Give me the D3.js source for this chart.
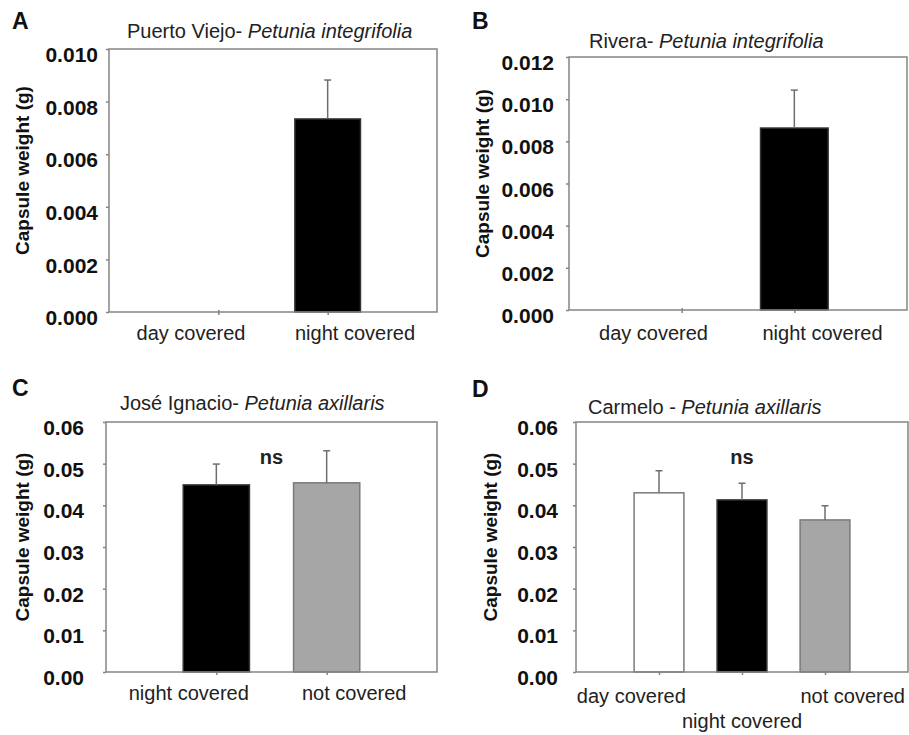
<!DOCTYPE html>
<html>
<head>
<meta charset="utf-8">
<script src="https://cdn.jsdelivr.net/npm/d3@7/dist/d3.min.js"></script>
<style>
  body { margin: 0; background: #fff; }
  svg { display: block; font-family: "Liberation Sans", Arial, sans-serif; }
</style>
</head>
<body>
<svg id="svg" width="909" height="735"></svg>
<script>
// panel data
const panelIds = ["A", "B", "C", "D"];
const sites = ["Puerto Viejo- ", "Rivera- ", "José Ignacio- ", "Carmelo - "];
const species = ["Petunia integrifolia", "Petunia integrifolia", "Petunia axillaris", "Petunia axillaris"];

const categoriesA = ["day covered", "night covered"];
const categoriesB = ["day covered", "night covered"];
const categoriesC = ["night covered", "not covered"];
const categoriesD = ["day covered", "night covered", "not covered"];

const meansA = [0, 0.00734];
const errorsA = [0, 0.00148];
const meansB = [0, 0.00863];
const errorsB = [0, 0.00180];
const meansC = [0.0449, 0.0454];
const errorsC = [0.0050, 0.0077];
const meansD = [0.0430, 0.0413, 0.0365];
const errorsD = [0.0053, 0.0040, 0.0034];

const fillsA = ["#000", "#000"];
const fillsB = ["#000", "#000"];
const fillsC = ["#000", "#a6a6a6"];
const fillsD = ["#fff", "#000", "#a6a6a6"];

const ticksA = [0, 0.002, 0.004, 0.006, 0.008, 0.010];
const ticksB = [0, 0.002, 0.004, 0.006, 0.008, 0.010, 0.012];
const ticksC = [0, 0.01, 0.02, 0.03, 0.04, 0.05, 0.06];
const ticksD = [0, 0.01, 0.02, 0.03, 0.04, 0.05, 0.06];

// "ns" label and the level it sits at (null = none)
const nsLevel = [null, null, 0.05, 0.05];

// layout
const frames = [
    { left: 109, right: 437, top: 49, bottom: 312, tickPad: 8, titleX: 127, titleY: 38, letterY: 29, axisX: 29, labelY: 340, fmt: ".3f" },
    { left: 569, right: 907, top: 57, bottom: 310, tickPad: 12, titleX: 589, titleY: 48, letterY: 29, axisX: 489, labelY: 340, fmt: ".3f" },
    { left: 106, right: 437, top: 422, bottom: 672, tickPad: 19, titleX: 120, titleY: 410, letterY: 396, axisX: 29, labelY: 700, fmt: ".2f" },
    { left: 576, right: 908, top: 422, bottom: 672, tickPad: 15, titleX: 588, titleY: 414, letterY: 397, axisX: 497, labelY: 703, fmt: ".2f" }
];
const letterX = [12, 472, 12, 472];

const panels = [
    { cats: categoriesA, means: meansA, errs: errorsA, fills: fillsA, ticks: ticksA },
    { cats: categoriesB, means: meansB, errs: errorsB, fills: fillsB, ticks: ticksB },
    { cats: categoriesC, means: meansC, errs: errorsC, fills: fillsC, ticks: ticksC },
    { cats: categoriesD, means: meansD, errs: errorsD, fills: fillsD, ticks: ticksD }
];

const svg = d3.select("#svg");
const frameColor = "#858585";

panels.forEach((p, k) => {
    const f = frames[k];
    const g = svg.append("g");
    const n = p.cats.length;

    const y = d3.scaleLinear()
        .domain([0, d3.max(p.ticks)])
        .range([f.bottom, f.top]);
    // bars sit on evenly spaced positions 1..n
    const x = d3.scaleLinear()
        .domain([0, n + 1])
        .range([f.left, f.right]);
    // category labels are centred in equal bands
    const band = d3.scaleBand()
        .domain(p.cats)
        .range([f.left, f.right]);
    const barW = (x(1) - x(0)) * 0.6;

    // panel letter
    g.append("text")
        .attr("x", letterX[k])
        .attr("y", f.letterY)
        .style("font-size", "23px")
        .style("font-weight", "bold")
        .style("fill", "#111")
        .text(panelIds[k]);

    // title
    const title = g.append("text")
        .attr("x", f.titleX)
        .attr("y", f.titleY)
        .style("font-size", "20px")
        .style("fill", "#222");
    title.append("tspan").text(sites[k]);
    title.append("tspan").style("font-style", "italic").text(species[k]);

    // y axis
    const yAxis = g.append("g")
        .attr("transform", "translate(" + f.left + ",0)")
        .call(d3.axisLeft(y)
            .tickValues(p.ticks)
            .tickFormat(d3.format(f.fmt))
            .tickSize(3)
            .tickPadding(f.tickPad));
    yAxis.select(".domain").remove();
    yAxis.selectAll(".tick line").style("stroke", frameColor).style("stroke-width", 1.5);
    yAxis.selectAll(".tick text")
        .attr("dy", "0.6em")
        .style("font-size", "21px")
        .style("font-weight", "bold")
        .style("fill", "#111")
        .style("font-family", "Liberation Sans, Arial, sans-serif");

    // x ticks
    const xAxis = g.append("g")
        .attr("transform", "translate(0," + f.bottom + ")")
        .call(d3.axisBottom(x)
            .tickValues(d3.range(1, n + 1))
            .tickFormat("")
            .tickSize(3));
    xAxis.select(".domain").remove();
    xAxis.selectAll(".tick line").attr("y1", -2).style("stroke", frameColor).style("stroke-width", 1.5);

    // bars
    const data = p.cats.map((c, i) => ({ cat: c, pos: i + 1, mean: p.means[i], err: p.errs[i], fill: p.fills[i] }))
        .filter(d => d.mean > 0);

    g.selectAll("rect.bar")
        .data(data)
        .join("rect")
        .attr("class", "bar")
        .attr("x", d => x(d.pos) - barW / 2)
        .attr("width", barW)
        .attr("y", d => y(d.mean))
        .attr("height", d => y(0) - y(d.mean))
        .style("fill", d => d.fill)
        .style("stroke", d => d.fill === "#000" ? "#333" : "#7a7a7a")
        .style("stroke-width", 1.5);

    // error bars
    g.selectAll("line.err")
        .data(data)
        .join("line")
        .attr("class", "err")
        .attr("x1", d => x(d.pos))
        .attr("x2", d => x(d.pos))
        .attr("y1", d => y(d.mean))
        .attr("y2", d => y(d.mean + d.err))
        .style("stroke", "#6e6e6e")
        .style("stroke-width", 1.5);
    g.selectAll("line.cap")
        .data(data)
        .join("line")
        .attr("class", "cap")
        .attr("x1", d => x(d.pos) - 3.5)
        .attr("x2", d => x(d.pos) + 3.5)
        .attr("y1", d => y(d.mean + d.err))
        .attr("y2", d => y(d.mean + d.err))
        .style("stroke", "#6e6e6e")
        .style("stroke-width", 1.5);

    // frame
    g.append("rect")
        .attr("x", f.left)
        .attr("y", f.top)
        .attr("width", f.right - f.left)
        .attr("height", f.bottom - f.top)
        .style("fill", "none")
        .style("stroke", frameColor)
        .style("stroke-width", 1.5);

    // category labels (panel D staggers the middle one)
    g.selectAll("text.cat")
        .data(p.cats)
        .join("text")
        .attr("class", "cat")
        .attr("x", d => band(d) + band.bandwidth() / 2)
        .attr("y", (d, i) => (n === 3 && i === 1) ? f.labelY + 25 : f.labelY)
        .attr("text-anchor", "middle")
        .style("font-size", "20px")
        .style("fill", "#222")
        .text(d => d);

    // significance mark
    if (nsLevel[k] !== null) {
        g.append("text")
            .attr("x", x((n + 1) / 2))
            .attr("y", y(nsLevel[k]))
            .attr("text-anchor", "middle")
            .style("font-size", "20px")
            .style("font-weight", "bold")
            .style("fill", "#222")
            .text("ns");
    }

    // y axis title
    g.append("text")
        .attr("transform", "translate(" + f.axisX + "," + ((f.top + f.bottom) / 2 - 10) + ")rotate(-90)")
        .attr("text-anchor", "middle")
        .style("font-size", "19px")
        .style("font-weight", "bold")
        .style("fill", "#111")
        .text("Capsule weight (g)");
});
</script>
</body>
</html>
